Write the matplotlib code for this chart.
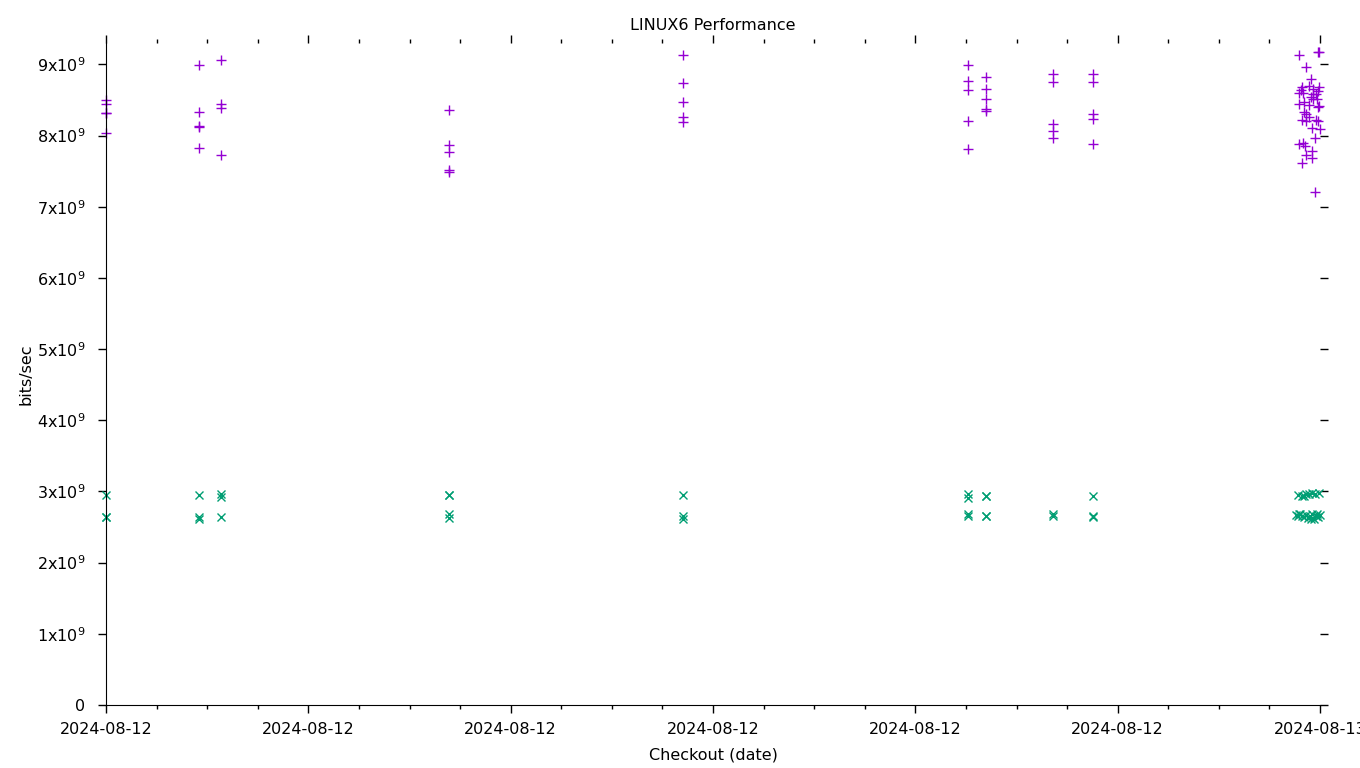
import matplotlib
matplotlib.use('Agg')
import matplotlib.pyplot as plt
import matplotlib.ticker as ticker


# ── palette ──────────────────────────────────────────────────────────────────

C_PLUS = '#9400d3'   # purple '+'
C_CROSS = '#009e73'  # green 'x'
C_TEXT = '#000000'

# ── data (hours since 2024-08-12 00:00, bits/sec in units of 1e9) ────────────

plus_hours = [
    0.0, 0.0, 0.0, 0.0, 0.0,
    1.84, 1.84, 1.84, 1.84, 1.84,
    2.27, 2.27, 2.27, 2.27,
    6.78, 6.78, 6.78, 6.78, 6.78,
    11.41, 11.41, 11.41, 11.41, 11.41,
    17.04, 17.04, 17.04, 17.04, 17.04,
    17.40, 17.40, 17.40, 17.40, 17.40,
    18.72, 18.72, 18.72, 18.72, 18.72,
    19.51, 19.51, 19.51, 19.51, 19.51,
    23.59, 23.96, 23.98, 23.72, 23.82,
    23.65, 23.78, 23.86, 23.98,
    23.59, 23.67, 23.63,
    23.86, 23.92, 23.96,
    23.82, 23.86, 23.94,
    23.59, 23.69, 23.78,
    23.96, 23.98,
    23.69, 23.72,
    23.78, 23.65, 23.72,
    23.92, 23.96,
    23.84, 24.0,
    23.90,
    23.59, 23.67, 23.70,
    23.72, 23.84, 23.84,
    23.65,
    23.90,
]
plus_vals = [
    8.50, 8.45, 8.31, 8.31, 8.03,
    8.99, 8.33, 8.14, 8.12, 7.82,
    9.06, 8.45, 8.38, 7.72,
    8.36, 7.87, 7.77, 7.51, 7.49,
    9.13, 8.74, 8.47, 8.26, 8.19,
    8.99, 8.76, 8.64, 8.21, 7.81,
    8.82, 8.65, 8.51, 8.37, 8.34,
    8.86, 8.75, 8.16, 8.06, 7.96,
    8.86, 8.75, 8.30, 8.23, 7.88,
    9.13, 9.17, 9.18, 8.96, 8.79,
    8.68, 8.69, 8.66, 8.68,
    8.60, 8.60, 8.64,
    8.59, 8.58, 8.62,
    8.54, 8.51, 8.51,
    8.44, 8.47, 8.43,
    8.40, 8.41,
    8.33, 8.30,
    8.26, 8.22, 8.20,
    8.22, 8.20,
    8.10, 8.09,
    7.96,
    7.88, 7.90, 7.86,
    7.73, 7.78, 7.69,
    7.61,
    7.21,
]

cross_hours = [
    0.0, 0.0, 0.0,
    1.84, 1.84, 1.84,
    2.27, 2.27, 2.27,
    6.78, 6.78, 6.78, 6.78,
    11.41, 11.41, 11.41,
    17.04, 17.04, 17.04, 17.04,
    17.40, 17.40, 17.40, 17.40,
    18.72, 18.72,
    19.51, 19.51, 19.51,
    23.56, 23.65, 23.72, 23.78, 23.84, 23.90, 23.98, 23.69,
    23.52, 23.56, 23.61, 23.65, 23.69, 23.72, 23.76, 23.80,
    23.84, 23.88, 23.92, 23.96, 24.0, 23.59, 23.82, 23.94,
]
cross_vals = [
    2.95, 2.64, 2.64,
    2.95, 2.64, 2.62,
    2.96, 2.92, 2.64,
    2.95, 2.95, 2.68, 2.63,
    2.95, 2.65, 2.61,
    2.96, 2.91, 2.68, 2.65,
    2.94, 2.94, 2.66, 2.65,
    2.68, 2.65,
    2.94, 2.66, 2.64,
    2.95, 2.94, 2.96, 2.97, 2.98, 2.97, 2.98, 2.93,
    2.67, 2.66, 2.68, 2.66, 2.64, 2.67, 2.63, 2.65,
    2.68, 2.62, 2.66, 2.64, 2.67, 2.69, 2.62, 2.69,
]

x_tick_hours = [0, 4, 8, 12, 16, 20, 24]
x_tick_labels = ['2024-08-12'] * 6 + ['2024-08-13']
y_tick_vals = [0, 1, 2, 3, 4, 5, 6, 7, 8, 9]
y_tick_labels = ['0'] + [f'{v}x10$^{{9}}$' for v in y_tick_vals[1:]]


# ── chart ────────────────────────────────────────────────────────────────────

plt.rcParams.update({
    'font.family': 'DejaVu Sans',
    'mathtext.fontset': 'dejavusans',
    'font.size': 11.5,
})

fig = plt.figure(figsize=(13.6, 7.68), dpi=100)
ax = fig.add_axes([106 / 1360, 63 / 768, 1214 / 1360, 662 / 768])

ax.plot(plus_hours, [v * 1e9 for v in plus_vals], ls='none', marker='+',
        ms=7, mew=1.0, color=C_PLUS, clip_on=False)
ax.plot(cross_hours, [v * 1e9 for v in cross_vals], ls='none', marker='x',
        ms=6, mew=1.0, color=C_CROSS, clip_on=False)

ax.set_xlim(0, 24)
ax.set_ylim(0, 9.3e9)

ax.set_xticks(x_tick_hours)
ax.set_xticklabels(x_tick_labels)
ax.xaxis.set_minor_locator(ticker.MultipleLocator(1))
ax.set_yticks([v * 1e9 for v in y_tick_vals])
ax.set_yticklabels(y_tick_labels)

ax.spines['top'].set_visible(False)
ax.spines['right'].set_visible(False)
ax.tick_params(which='both', direction='out', top=True, right=True,
               labeltop=False, labelright=False, width=1.0, colors=C_TEXT)
ax.tick_params(which='major', length=6, labelsize=11.5)
ax.tick_params(axis='y', which='major', pad=9)
ax.tick_params(axis='x', which='major', pad=6)
ax.tick_params(which='minor', length=3)

ax.set_title('LINUX6 Performance', fontsize=11.5, pad=9)
ax.set_xlabel('Checkout (date)', fontsize=11.5, labelpad=8)
ax.set_ylabel('bits/sec', fontsize=11.5, labelpad=2)

fig.savefig('out.png', dpi=100, facecolor='white')
